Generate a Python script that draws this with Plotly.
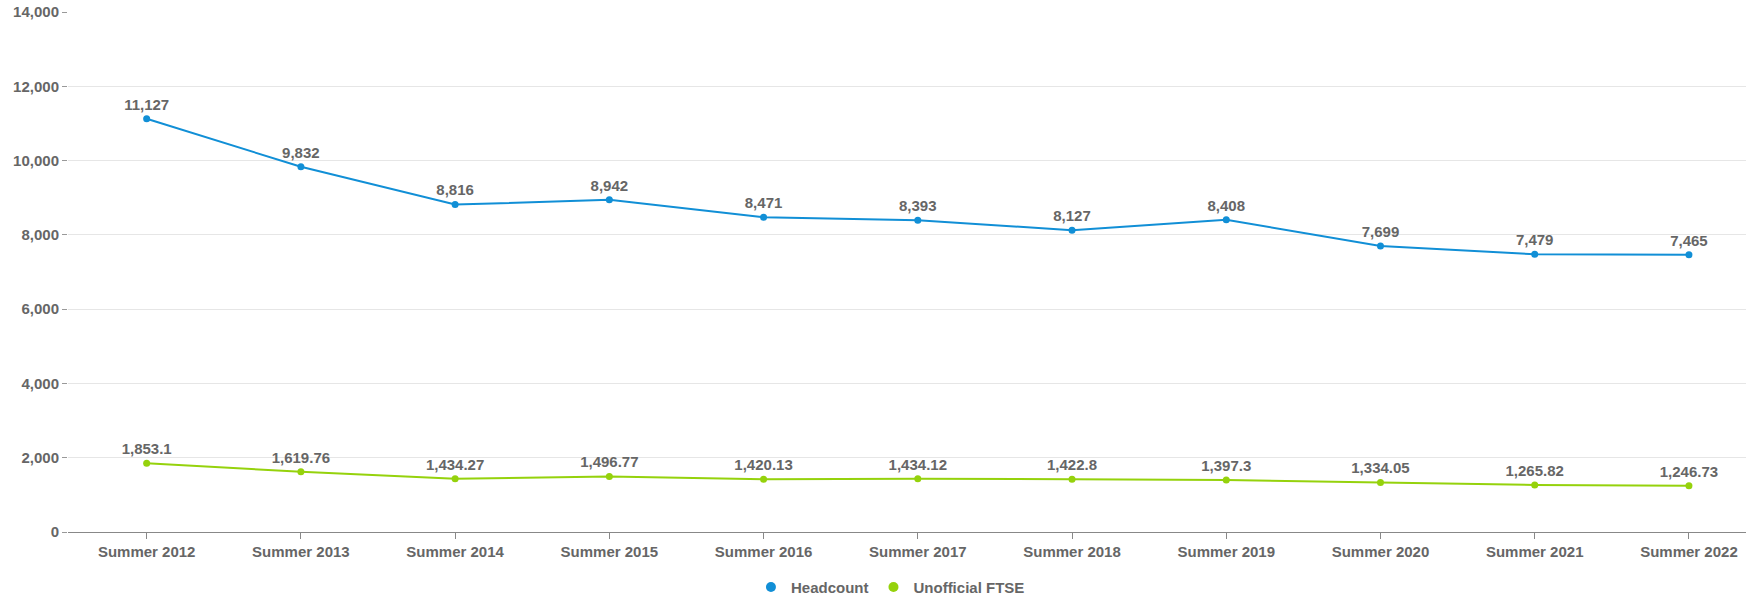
import plotly.graph_objects as go

categories = ["Summer 2012", "Summer 2013", "Summer 2014", "Summer 2015", "Summer 2016",
              "Summer 2017", "Summer 2018", "Summer 2019", "Summer 2020", "Summer 2021", "Summer 2022"]
headcount = [11127, 9832, 8816, 8942, 8471, 8393, 8127, 8408, 7699, 7479, 7465]
ftse = [1853.1, 1619.76, 1434.27, 1496.77, 1420.13, 1434.12, 1422.8, 1397.3, 1334.05, 1265.82, 1246.73]
y_ticks = [0, 2000, 4000, 6000, 8000, 10000, 12000, 14000]

BLUE = "#118FD6"
GREEN = "#95D20C"
TXT = "#666666"
FONT = "Liberation Sans, Arial, sans-serif"

fig = go.Figure()
for name, vals, col in [("Headcount", headcount, BLUE), ("Unofficial FTSE", ftse, GREEN)]:
    fig.add_trace(go.Scatter(
        x=categories, y=vals, mode="lines+markers+text",
        text=[f"{v:,}" for v in vals], textposition="top center",
        textfont=dict(family=FONT, size=15, color=TXT, weight="bold"),
        line=dict(color=col, width=2), marker=dict(color=col, size=7),
        showlegend=False, cliponaxis=False, hoverinfo="skip"))
    fig.add_trace(go.Scatter(
        x=[None], y=[None], mode="markers", name=name,
        marker=dict(color=col, size=10), showlegend=True))

fig.update_layout(
    width=1746, height=598,
    margin=dict(l=68, r=0, t=12, b=66),
    paper_bgcolor="white", plot_bgcolor="white",
    font=dict(family=FONT, size=15, color=TXT, weight="bold"),
    legend=dict(orientation="h", xref="container", yref="container",
                x=0.51, xanchor="center", y=0.018, yanchor="middle",
                font=dict(family=FONT, size=15, color=TXT, weight="bold"),
                itemwidth=30, tracegroupgap=0),
    xaxis=dict(type="category", range=[-0.51, 10.37], showgrid=False,
               showline=True, linecolor="#888888", linewidth=1,
               ticks="outside", ticklen=6, tickcolor="#888888",
               tickfont=dict(family=FONT, size=15, color=TXT, weight="bold")),
    yaxis=dict(range=[0, 14000], tickvals=y_ticks, tickformat=",",
               showgrid=True, gridcolor="#e6e6e6", gridwidth=1, zeroline=False,
               showline=False, ticks="outside", ticklen=5, tickcolor="#999999",
               tickfont=dict(family=FONT, size=15, color=TXT, weight="bold")),
)

fig.write_html("out.html")
